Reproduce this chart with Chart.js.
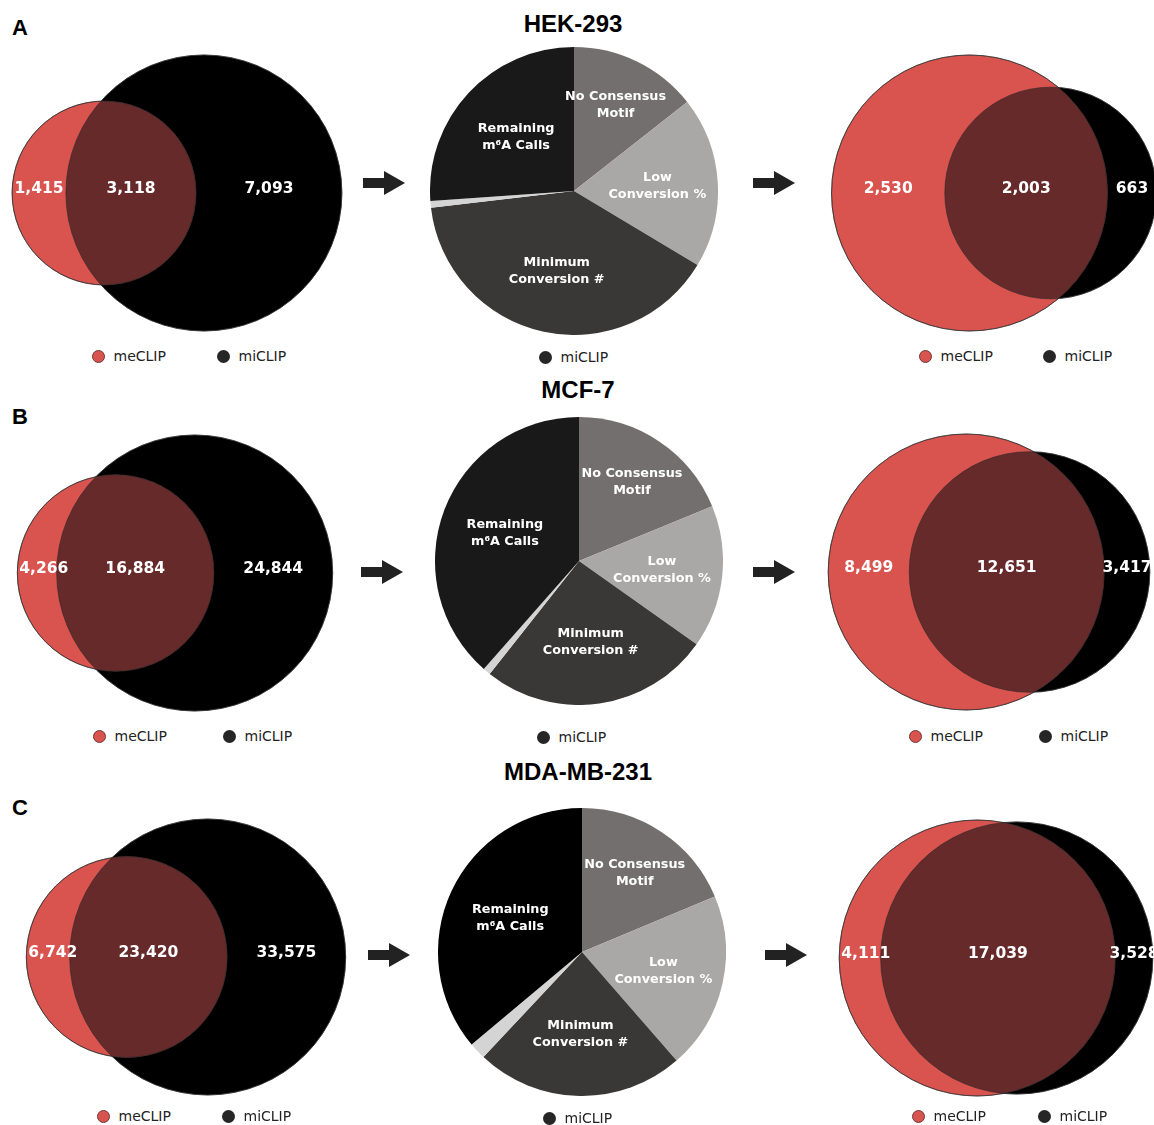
<!DOCTYPE html>
<html>
<head>
<meta charset="utf-8">
<title>meCLIP / miCLIP filtering</title>
<script src="https://cdn.jsdelivr.net/npm/chart.js@4.4.1/dist/chart.umd.min.js"></script>
<style>
  html, body { margin: 0; padding: 0; width: 1154px; height: 1125px; overflow: hidden; background: #fff; }
  #fig { position: relative; width: 1154px; height: 1125px; overflow: hidden; }
  canvas { position: absolute; }
  .letter { position: absolute; left: 12px; font: bold 22px "Liberation Sans", Arial, sans-serif; line-height: 1; transform: translateY(-50%); color: #000; }
  .title { position: absolute; font: bold 24px "Liberation Sans", Arial, sans-serif; line-height: 1; transform: translate(-50%, -50%); white-space: nowrap; color: #000; }
  .leg { position: absolute; height: 18px; display: flex; align-items: center; white-space: nowrap; font: 14px "DejaVu Sans", Verdana, sans-serif; color: #222; }
  .leg i { display: inline-block; width: 13px; height: 13px; border-radius: 50%; box-sizing: border-box; margin-right: 9px; }
  .arrow { position: absolute; width: 42px; height: 24px; }
  .arrow .shaft { position: absolute; left: 0; top: 7px; width: 22px; height: 10px; background: #222; }
  .arrow .head { position: absolute; left: 21px; top: 0; width: 0; height: 0; border-top: 12px solid transparent; border-bottom: 12px solid transparent; border-left: 21px solid #222; }
</style>
</head>
<body>
<div id="fig"></div>
<script>
// data
const cellLines = ['HEK-293', 'MCF-7', 'MDA-MB-231'];
const panels = ['A', 'B', 'C'];
const sets = ['meCLIP', 'miCLIP'];
// [meCLIP only, shared, miCLIP only]
const beforeCounts = [[1415, 3118, 7093], [4266, 16884, 24844], [6742, 23420, 33575]];
const afterCounts = [[2530, 2003, 663], [8499, 12651, 3417], [4111, 17039, 3528]];
const filterNames = ['No Consensus Motif', 'Low Conversion %', 'Minimum Conversion #', 'Other', 'Remaining m⁶A Calls'];
const filterLabelLines = [['No Consensus', 'Motif'], ['Low', 'Conversion %'], ['Minimum', 'Conversion #'], [], ['Remaining', 'm⁶A Calls']];
// share of miCLIP calls (%) removed by each step / remaining
const filterShare = [
  [14.4, 19.2, 39.55, 0.75, 26.1],
  [18.8, 16.0, 25.85, 0.85, 38.5],
  [18.7, 19.9, 23.4, 1.9, 36.1]
];

// layout / style
const RED = '#d9534f', BLACK = '#000', OVERLAP = '#672a2b';
const pieColors = [
  ['#736f6e', '#aaa8a7', '#3a3837', '#d4d4d4', '#191919'],
  ['#736f6e', '#aaa8a7', '#3a3837', '#d4d4d4', '#191919'],
  ['#736f6e', '#aaa8a7', '#3a3837', '#d4d4d4', '#000000']
];
const labelRadius = [0.66, 0.58, 0.57, 0, 0.55]; // fraction of pie radius for slice text
const VENN_R = 138, VW = 350, VH = 300, PIE_R = 144;
const rows = [
  { letterY: 28, title: [573, 24], vennL: [176.5, 192.5], pie: [574, 191], vennR: [994, 192.5],
    arrows: [[363, 183], [753, 183]], legY: 356, legL: [98, 223], pieLeg: [545, 357], legR: [925, 1049] },
  { letterY: 417, title: [578, 390], vennL: [175, 572.5], pie: [578.5, 561], vennR: [988.5, 572],
    arrows: [[361, 572], [753, 572]], legY: 736, legL: [99, 229], pieLeg: [543, 737], legR: [915, 1045] },
  { letterY: 808, title: [578, 772], vennL: [185.5, 957], pie: [581.5, 952], vennR: [995.5, 958],
    arrows: [[368, 955], [765, 955]], legY: 1116, legL: [103, 228], pieLeg: [549, 1118], legR: [918, 1044] }
];

const fig = document.getElementById('fig');

// area of the lens between two circles
function lens(r1, r2, d) {
  if (d >= r1 + r2) return 0;
  if (d <= Math.abs(r1 - r2)) return Math.PI * Math.min(r1, r2) ** 2;
  const a = r1 * r1 * Math.acos((d * d + r1 * r1 - r2 * r2) / (2 * d * r1));
  const b = r2 * r2 * Math.acos((d * d + r2 * r2 - r1 * r1) / (2 * d * r2));
  const c = 0.5 * Math.sqrt((-d + r1 + r2) * (d + r1 - r2) * (d - r1 + r2) * (d + r1 + r2));
  return a + b - c;
}

// area-proportional circles, union centred on 0
function vennLayout(counts) {
  const n1 = counts[0] + counts[1], n2 = counts[1] + counts[2];
  const k = VENN_R / Math.sqrt(Math.max(n1, n2));
  const r1 = k * Math.sqrt(n1), r2 = k * Math.sqrt(n2);
  const target = Math.PI * k * k * counts[1];
  let lo = Math.abs(r1 - r2), hi = r1 + r2;
  for (let i = 0; i < 60; i++) {
    const mid = (lo + hi) / 2;
    if (lens(r1, r2, mid) > target) lo = mid; else hi = mid;
  }
  const d = (lo + hi) / 2;
  const x1 = -(d + r2 - r1) / 2;
  return [{ x: x1, y: 0, r: r1 }, { x: x1 + d, y: 0, r: r2 }];
}

function pxLen(chart, v) {
  const s = chart.scales && chart.scales.x;
  if (!s) return 0;
  const p = Math.abs(s.getPixelForValue(v) - s.getPixelForValue(0));
  return isFinite(p) ? p : 0;
}

const vennPlugin = {
  id: 'vennOverlap',
  afterDatasetsDraw(chart, args, opts) {
    const ctx = chart.ctx;
    const a = chart.getDatasetMeta(0).data[0], b = chart.getDatasetMeta(1).data[0];
    const ra = a.options.radius, rb = b.options.radius;
    ctx.save();
    ctx.beginPath(); ctx.arc(a.x, a.y, ra, 0, Math.PI * 2); ctx.clip();
    ctx.beginPath(); ctx.arc(b.x, b.y, rb, 0, Math.PI * 2);
    ctx.fillStyle = OVERLAP; ctx.fill();
    ctx.restore();

    ctx.save();
    ctx.lineWidth = 0.8;
    ctx.strokeStyle = 'rgba(40,40,40,0.75)';
    [[a, ra], [b, rb]].forEach(([p, r]) => { ctx.beginPath(); ctx.arc(p.x, p.y, r, 0, Math.PI * 2); ctx.stroke(); });

    // region counts
    ctx.fillStyle = '#fff';
    ctx.font = 'bold 15.5px "DejaVu Sans", Verdana, sans-serif';
    ctx.textAlign = 'center';
    ctx.textBaseline = 'middle';
    const texts = opts.counts.map(c => c.toLocaleString('en-US'));
    const w0 = ctx.measureText(texts[0]).width;
    const xs = [
      Math.max((a.x - ra + b.x - rb) / 2, a.x - ra + w0 / 2 + 2),
      (b.x - rb + a.x + ra) / 2,
      (a.x + ra + b.x + rb) / 2
    ];
    const y = chart.scales.y.getPixelForValue(4);
    texts.forEach((t, i) => ctx.fillText(t, xs[i], y));
    ctx.restore();
  }
};

const sliceLabels = {
  id: 'sliceLabels',
  afterDatasetsDraw(chart) {
    const ctx = chart.ctx;
    ctx.save();
    ctx.fillStyle = '#fff';
    ctx.font = 'bold 12.8px "DejaVu Sans", Verdana, sans-serif';
    ctx.textAlign = 'center';
    ctx.textBaseline = 'middle';
    chart.getDatasetMeta(0).data.forEach((arc, i) => {
      const lines = filterLabelLines[i];
      if (!lines.length) return;
      const p = arc.getProps(['x', 'y', 'startAngle', 'endAngle', 'outerRadius'], true);
      const ang = (p.startAngle + p.endAngle) / 2, r = p.outerRadius * labelRadius[i];
      const cx = p.x + Math.cos(ang) * r, cy = p.y + Math.sin(ang) * r;
      lines.forEach((t, j) => ctx.fillText(t, cx, cy + (j - (lines.length - 1) / 2) * 17));
    });
    ctx.restore();
  }
};

function addCanvas(left, top, w, h) {
  const c = document.createElement('canvas');
  c.width = w; c.height = h;
  c.style.left = left + 'px'; c.style.top = top + 'px';
  c.style.width = w + 'px'; c.style.height = h + 'px';
  fig.appendChild(c);
  return c;
}

function makeVenn(center, counts) {
  const canvas = addCanvas(center[0] - VW / 2, center[1] - VH / 2, VW, VH);
  const circles = vennLayout(counts);
  return new Chart(canvas, {
    type: 'scatter',
    data: {
      datasets: sets.map((s, i) => ({
        label: s,
        data: [circles[i]],
        clip: false,
        pointRadius: c => pxLen(c.chart, c.raw ? c.raw.r : 0),
        pointBackgroundColor: i === 0 ? RED : BLACK,
        pointBorderColor: 'rgba(40,40,40,0.75)',
        pointBorderWidth: 0.8
      }))
    },
    options: {
      responsive: false,
      animation: false,
      events: [],
      devicePixelRatio: 1,
      layout: { padding: 0, autoPadding: false },
      scales: {
        x: { type: 'linear', min: -VW / 2, max: VW / 2, display: false },
        y: { type: 'linear', min: -VH / 2, max: VH / 2, display: false }
      },
      plugins: { legend: { display: false }, tooltip: { enabled: false }, vennOverlap: { counts: counts } }
    },
    plugins: [vennPlugin]
  });
}

function makePie(center, shares, colors) {
  const canvas = addCanvas(center[0] - PIE_R, center[1] - PIE_R, PIE_R * 2, PIE_R * 2);
  return new Chart(canvas, {
    type: 'pie',
    data: {
      labels: filterNames,
      datasets: [{ data: shares, backgroundColor: colors, borderWidth: 0, hoverOffset: 0 }]
    },
    options: {
      responsive: false,
      animation: false,
      events: [],
      devicePixelRatio: 1,
      layout: { padding: 0 },
      plugins: { legend: { display: false }, tooltip: { enabled: false } }
    },
    plugins: [sliceLabels]
  });
}

function addDiv(cls, html, left, top) {
  const d = document.createElement('div');
  d.className = cls;
  d.innerHTML = html;
  d.style.left = left + 'px';
  d.style.top = top + 'px';
  fig.appendChild(d);
  return d;
}

function addLegend(x, y, name) {
  const col = name === 'meCLIP' ? RED : '#262626';
  const border = name === 'meCLIP' ? '1px solid #6b3a38' : 'none';
  addDiv('leg', '<i style="background:' + col + ';border:' + border + '"></i>' + name, x - 6.5, y - 9);
}

rows.forEach((row, i) => {
  addDiv('letter', panels[i], 12, row.letterY);
  addDiv('title', cellLines[i], row.title[0], row.title[1]);
  makeVenn(row.vennL, beforeCounts[i]);
  makePie(row.pie, filterShare[i], pieColors[i]);
  makeVenn(row.vennR, afterCounts[i]);
  row.arrows.forEach(a => addDiv('arrow', '<div class="shaft"></div><div class="head"></div>', a[0], a[1] - 12));
  addLegend(row.legL[0], row.legY, sets[0]);
  addLegend(row.legL[1], row.legY, sets[1]);
  addLegend(row.pieLeg[0], row.pieLeg[1], sets[1]);
  addLegend(row.legR[0], row.legY, sets[0]);
  addLegend(row.legR[1], row.legY, sets[1]);
});
</script>
</body>
</html>
